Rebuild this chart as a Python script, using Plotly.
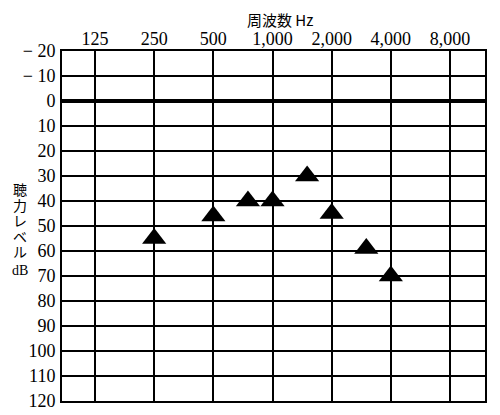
import plotly.graph_objects as go

# audiogram: frequency (Hz) vs hearing level (dB)
freqs = [250, 500, 750, 1000, 1500, 2000, 3000, 4000]
levels = [55, 46, 40, 40, 30, 45, 59, 70]

freq_ticks = [125, 250, 500, 1000, 2000, 4000, 8000]
freq_labels = ['125', '250', '500', '1,000', '2,000', '4,000', '8,000']
db_ticks = list(range(-20, 121, 10))
db_labels = [str(v).replace('-', '− ') for v in db_ticks]

serif = 'Liberation Serif'
jp = 'Noto Sans CJK JP'

fig = go.Figure()
fig.add_trace(go.Scatter(
    x=freqs, y=levels, mode='markers',
    marker=dict(symbol='triangle-up', size=21, color='black'),
    showlegend=False,
))

fig.update_xaxes(
    type='log', side='top', range=[1.929, 4.081],
    tickvals=freq_ticks, ticktext=freq_labels, ticks='',
    showgrid=True, gridcolor='black', gridwidth=1.5,
    showline=True, linecolor='black', linewidth=2, mirror=True,
    tickfont=dict(family=serif, size=18, color='black'),
    zeroline=False, automargin=False, ticklabelstandoff=-3,
)
fig.update_yaxes(
    range=[120, -20], tickvals=db_ticks, ticktext=db_labels, ticks='',
    showgrid=True, gridcolor='black', gridwidth=1.5,
    showline=True, linecolor='black', linewidth=2, mirror=True,
    tickfont=dict(family=serif, size=18, color='black'),
    zeroline=True, zerolinecolor='black', zerolinewidth=3.5,
    automargin=False, ticklabelstandoff=1,
)

fig.add_annotation(text='周波数 Hz', xref='paper', yref='paper', x=0.515, y=1.0,
                   yshift=32, yanchor='middle', showarrow=False,
                   font=dict(family=jp, size=15, color='black'))

# vertical y-axis title, stacked characters
ytitle = ['聴', '力', 'レ', 'ベ', 'ル', 'dB']
for i, ch in enumerate(ytitle):
    fig.add_annotation(text=ch, xref='paper', yref='paper', x=-0.1, y=0.5,
                       yshift=37 - i * 15.5 - (4 if ch == 'dB' else 0),
                       yanchor='middle', showarrow=False, xanchor='center',
                       font=dict(family=jp if ch != 'dB' else serif, size=14, color='black'))

# page has an 8px body margin, so the margins are offset to compensate
fig.update_layout(
    width=500, height=415,
    margin=dict(l=54, r=23, t=43, b=22),
    plot_bgcolor='white', paper_bgcolor='white',
)

fig.write_html("out.html")
